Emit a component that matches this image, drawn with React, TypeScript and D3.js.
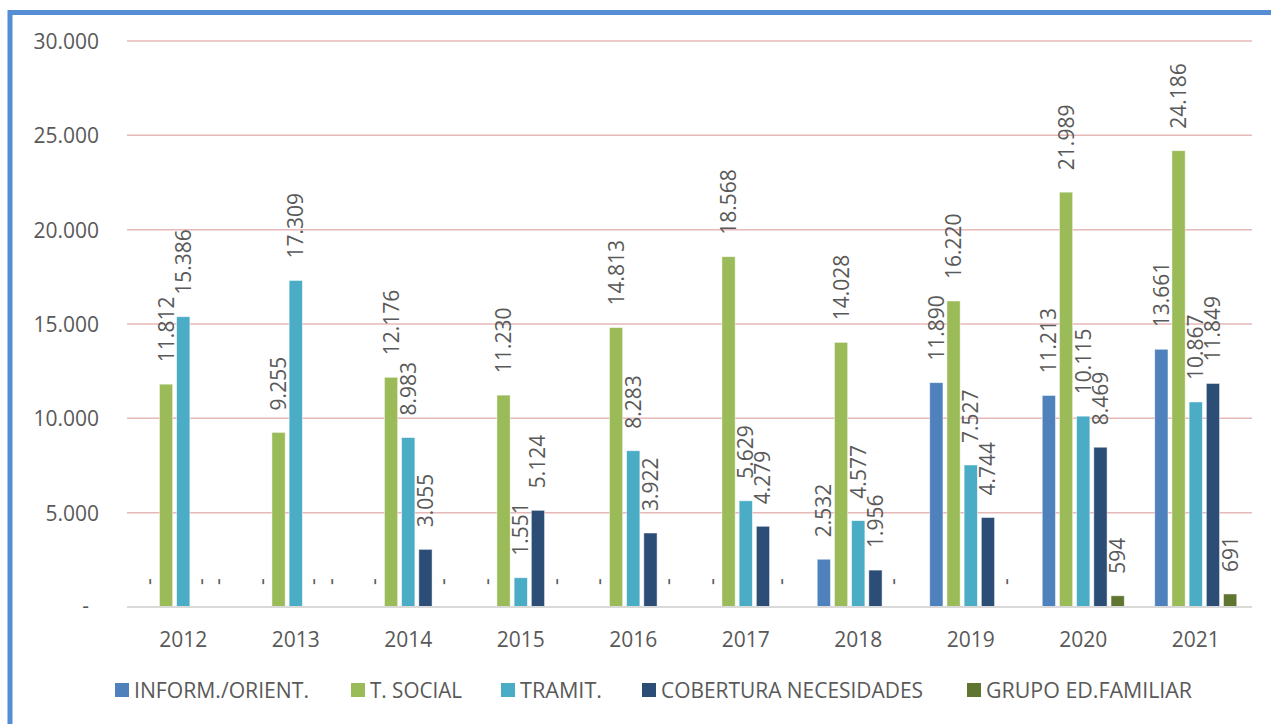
import * as d3 from "d3";

const years = ["2012", "2013", "2014", "2015", "2016", "2017", "2018", "2019", "2020", "2021"];
const seriesNames = ["INFORM./ORIENT.", "T. SOCIAL", "TRAMIT.", "COBERTURA NECESIDADES", "GRUPO ED.FAMILIAR"];
const seriesColors = ["#4F81BD", "#9BBB59", "#4BACC6", "#2C4D75", "#5F7530"];

const informOrient = [0, 0, 0, 0, 0, 0, 2532, 11890, 11213, 13661];
const tSocial = [11812, 9255, 12176, 11230, 14813, 18568, 14028, 16220, 21989, 24186];
const tramit = [15386, 17309, 8983, 1551, 8283, 5629, 4577, 7527, 10115, 10867];
const cobertura = [0, 0, 3055, 5124, 3922, 4279, 1956, 4744, 8469, 11849];
const grupoEd = [0, 0, 0, 0, 0, 0, 0, 0, 594, 691];
const yTicks = [0, 5000, 10000, 15000, 20000, 25000, 30000];

const seriesValues = [informOrient, tSocial, tramit, cobertura, grupoEd];

const W = 1271;
const H = 724;
const FONT = "'Open Sans', sans-serif";
const TXT = "#595959";

// posiciones de la leyenda (medidas sobre la imagen)
const legendX = [115, 351, 501, 642, 967];
const legendW = [175, 92, 82, 262, 206];

const fmt = (v: number) => (v === 0 ? "-" : d3.format(",")(v).replace(/,/g, "."));

export default function App() {
  const x = d3.scaleBand<string>().domain(years).range([127, 1252]).padding(0);
  const xs = d3
    .scaleBand<number>()
    .domain(d3.range(seriesNames.length))
    .range([0, x.bandwidth()])
    .paddingInner(0.23)
    .paddingOuter(0.885);
  const y = d3.scaleLinear().domain([0, 30000]).range([607, 41]);

  return (
    <svg
      width={W}
      height={H}
      style={{ position: "absolute", left: 0, top: 0, background: "#fff" }}
      fontFamily={FONT}
    >
      <rect x={0} y={0} width={W} height={H} fill="#fff" />
      {/* marco azul */}
      <rect x={10} y={12.5} width={W + 20} height={H + 20} fill="none" stroke="#558ED5" strokeWidth={5} />

      {/* rejilla */}
      {yTicks.slice(1).map((t) => (
        <line key={t} x1={127} x2={1252} y1={y(t)} y2={y(t)} stroke="#E6B9B8" strokeWidth={1.5} />
      ))}
      {yTicks.map((t) => (
        <text
          key={"l" + t}
          x={t === 0 ? 89 : 99}
          y={t === 0 ? y(t) + 6 : y(t) + 8}
          textAnchor="end"
          fontSize={21}
          fill={TXT}
        >
          {fmt(t)}
        </text>
      ))}

      {/* barras */}
      {years.map((yr, i) => (
        <g key={yr} transform={`translate(${x(yr)},0)`}>
          {seriesValues.map((vals, s) => {
            const v = vals[i];
            const bx = xs(s)!;
            const bw = xs.bandwidth();
            const cx = bx + bw / 2;
            const ly = y(v) - 22;
            return (
              <g key={s}>
                {v > 0 && (
                  <rect
                    x={bx}
                    y={y(v)}
                    width={bw}
                    height={y(0) - y(v)}
                    fill={seriesColors[s]}
                    stroke="#fff"
                    strokeOpacity={0.6}
                    strokeWidth={0.8}
                  />
                )}
                <text
                  transform={`translate(${cx + 7.5},${ly}) rotate(-90)`}
                  fontSize={21}
                  fill={TXT}
                  textAnchor="start"
                >
                  {fmt(v)}
                </text>
              </g>
            );
          })}
          <text x={x.bandwidth() / 2} y={647} textAnchor="middle" fontSize={21} fill={TXT}>
            {yr}
          </text>
        </g>
      ))}

      {/* eje */}
      <line x1={127} x2={1252} y1={607} y2={607} stroke="#D9D9D9" strokeWidth={2} />

      {/* leyenda */}
      {seriesNames.map((n, s) => (
        <g key={n}>
          <rect x={legendX[s]} y={683} width={14} height={14} fill={seriesColors[s]} />
          <text
            x={legendX[s] + 19}
            y={698}
            fontSize={21}
            fill={TXT}
            textLength={legendW[s]}
            lengthAdjust="spacingAndGlyphs"
          >
            {n}
          </text>
        </g>
      ))}
    </svg>
  );
}
